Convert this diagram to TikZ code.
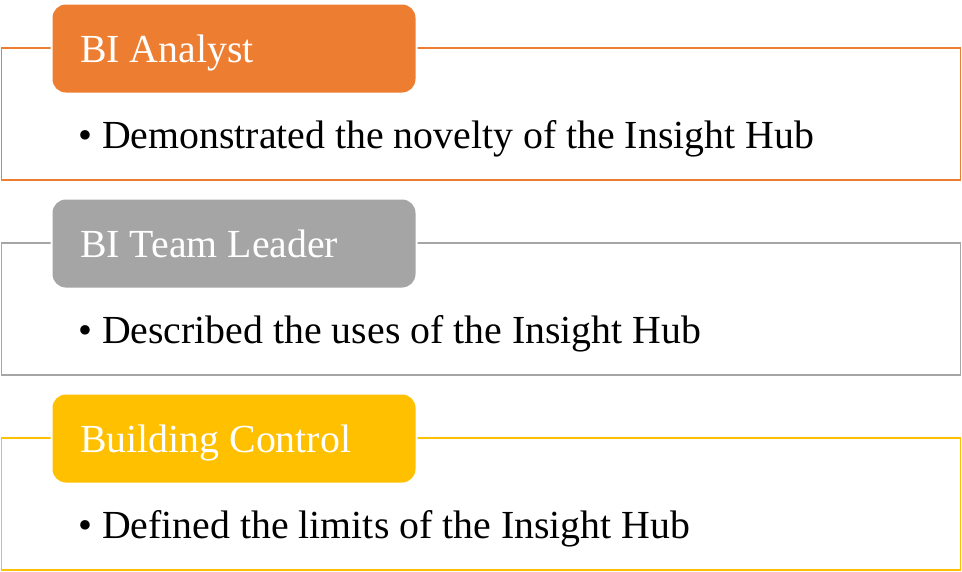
\documentclass[tikz,border=0pt]{standalone}
\usepackage{fontspec}
\setmainfont{Liberation Serif}
\definecolor{cOrange}{HTML}{ED7D31}
\definecolor{cGrey}{HTML}{A5A5A5}
\definecolor{cGold}{HTML}{FFC000}
\tikzset{
  outerbox/.style={line width=1.6pt},
  headbox/.style={rounded corners=14pt, draw=white, line width=2pt},
  headtext/.style={anchor=base west, inner sep=0pt, text=white, font=\fontsize{39.8}{46}\selectfont},
  bodytext/.style={anchor=base west, inner sep=0pt, text=black, font=\fontsize{39.8}{46}\selectfont},
}
\begin{document}
\begin{tikzpicture}[x=1pt,y=-1pt]
\useasboundingbox (0,0) rectangle (962,571);
\foreach \dy/\col/\head/\body/\n in {
  0/cOrange/BI Analyst/Demonstrated the novelty of the Insight Hub/a,
  195/cGrey/BI Team Leader/Described the uses of the Insight Hub/b,
  390/cGold/Building Control/Defined the limits of the Insight Hub/c}{
  \draw[outerbox, draw=\col] (1.5,48+\dy) rectangle (960.5,180+\dy);
  \filldraw[headbox, fill=\col] (51.5,3.5+\dy) rectangle (416.5,93.5+\dy);
  \node[headtext] (h\n) at (80,62+\dy) {\head};
  \node[bodytext] (t\n) at (78,148+\dy) {• \body};
}
\end{tikzpicture}
\end{document}
